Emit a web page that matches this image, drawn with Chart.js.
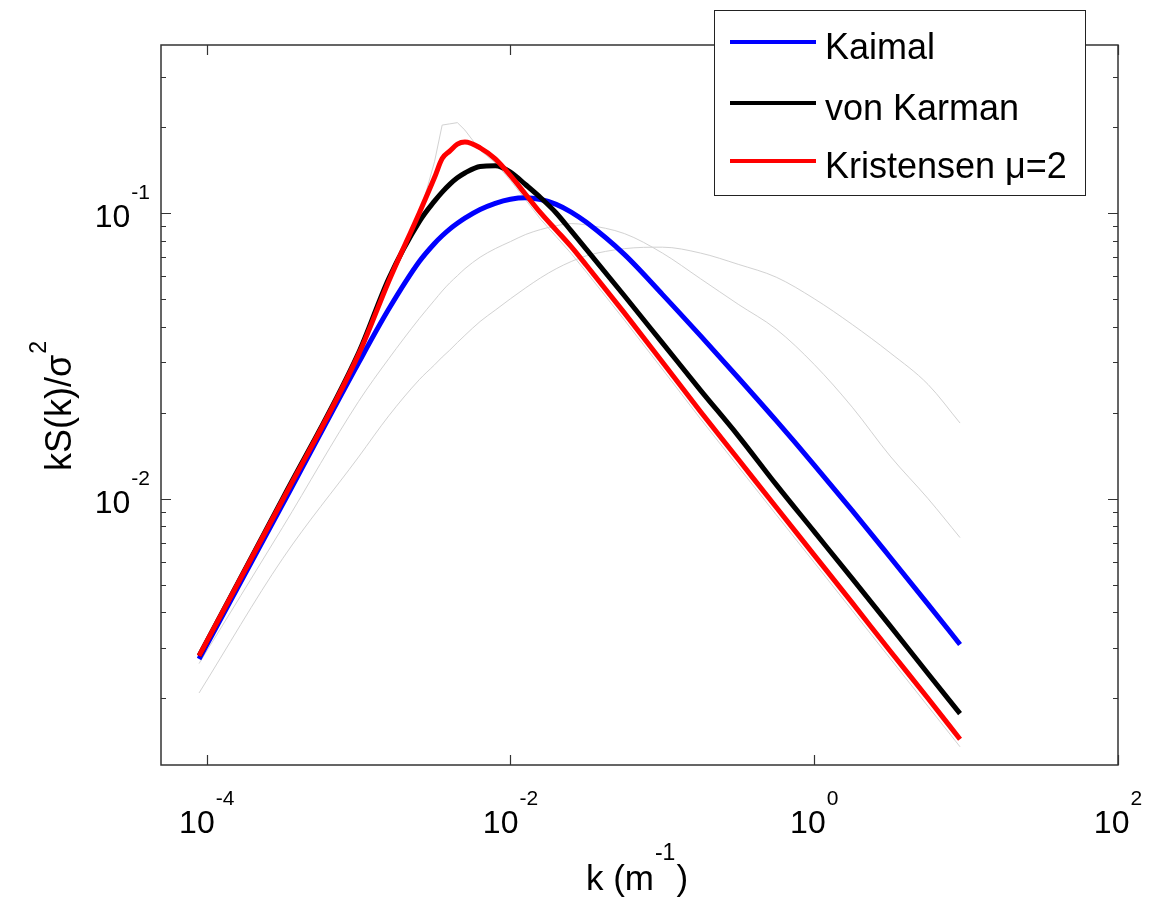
<!DOCTYPE html>
<html>
<head>
<meta charset="utf-8">
<title>Normalised spectra</title>
<script src="https://cdn.jsdelivr.net/npm/chart.js@4.4.1/dist/chart.umd.min.js"></script>
<style>
  html, body { margin: 0; padding: 0; background: #fff; }
  #wrap { width: 1158px; height: 902px; position: relative; }
</style>
</head>
<body>
<div id="wrap"><canvas id="spectra"></canvas></div>
<script>
// wave numbers k (1/m) shared by every curve
const waveNumbers = [8.9e-5, 3.16e-4, 1.0e-3, 1.58e-3, 2.51e-3, 3.16e-3, 3.55e-3, 3.98e-3, 4.47e-3, 5.01e-3,
  6.31e-3, 7.94e-3, 1.0e-2, 1.26e-2, 1.58e-2, 2.0e-2, 2.51e-2, 3.16e-2, 5.62e-2, 0.1,
  0.178, 0.316, 0.562, 1.0, 1.78, 3.16, 5.62, 9.12];

// kS(k)/sigma^2
const kaimal = [0.00275, 0.00955, 0.0299, 0.0461, 0.0676, 0.0782, 0.0832, 0.0878, 0.0920, 0.0959,
  0.1028, 0.1081, 0.1117, 0.1130, 0.1114, 0.1072, 0.1007, 0.0927, 0.0716, 0.0519,
  0.0372, 0.0265, 0.01875, 0.01312, 0.00908, 0.00624, 0.00427, 0.00309];
const vonKarman = [0.00282, 0.0100, 0.0324, 0.0590, 0.0933, 0.110, 0.1183, 0.1259, 0.1327, 0.138,
  0.1455, 0.1462, 0.139, 0.1255, 0.113, 0.100, 0.0865, 0.0746, 0.0513, 0.0351,
  0.024, 0.0166, 0.0112, 0.00767, 0.00525, 0.00359, 0.00244, 0.00177];
const kristensen = [0.00282, 0.0099, 0.032, 0.0577, 0.100, 0.133, 0.155, 0.1645, 0.174, 0.177,
  0.169, 0.1545, 0.135, 0.116, 0.100, 0.0871, 0.0762, 0.0656, 0.0447, 0.0301,
  0.0202, 0.01374, 0.00933, 0.00635, 0.00432, 0.00293, 0.0020, 0.00144];

// the three thin grey background curves
const greyA = [0.00275, 0.00977, 0.0316, 0.0569, 0.0977, 0.151, 0.203, 0.205, 0.207, 0.195,
  0.166, 0.1496, 0.130, 0.111, 0.095, 0.0826, 0.0721, 0.0621, 0.0422, 0.0284,
  0.01905, 0.01294, 0.00879, 0.00598, 0.00406, 0.00276, 0.001875, 0.001355];
const greyB = [0.00265, 0.00794, 0.0219, 0.0309, 0.0427, 0.0495, 0.0533, 0.0569, 0.0603, 0.0638,
  0.070, 0.075, 0.0794, 0.0841, 0.0875, 0.0902, 0.0918, 0.0908, 0.0847, 0.0724,
  0.0589, 0.0479, 0.0392, 0.0295, 0.0209, 0.0141, 0.0100, 0.00731];
const greyC = [0.00209, 0.00617, 0.014, 0.0195, 0.0261, 0.0294, 0.0313, 0.0331, 0.0352, 0.0373,
  0.0417, 0.0457, 0.0501, 0.0547, 0.0593, 0.0638, 0.0676, 0.0708, 0.075, 0.0759,
  0.0724, 0.0661, 0.0596, 0.0501, 0.0407, 0.0324, 0.0251, 0.0184];

// axis ticks
const xMajorTicks = [1e-4, 1e-2, 1, 1e2];
const xTickExponents = ['-4', '-2', '0', '2'];
const yMajorTicks = [1e-2, 1e-1];
const yTickExponents = ['-2', '-1'];
const yMinorTicks = [0.002, 0.003, 0.004, 0.005, 0.006, 0.007, 0.008, 0.009,
  0.02, 0.03, 0.04, 0.05, 0.06, 0.07, 0.08, 0.09, 0.2, 0.3];

const legendLabels = ['Kaimal', 'von Karman', 'Kristensen \u03bc=2'];
const legendColors = ['#0000ff', '#000000', '#ff0000'];

const FONT = '"Liberation Sans", Arial, Helvetica, sans-serif';
const AXIS_COLOR = '#333333';

function toPoints(values) {
  return waveNumbers.map((k, i) => ({ x: k, y: values[i] }));
}

function mainLine(label, values, color, order) {
  return {
    label: label, data: toPoints(values), borderColor: color, borderWidth: 5,
    order: order, cubicInterpolationMode: 'monotone'
  };
}

function greyLine(values, smooth) {
  const ds = { label: '', data: toPoints(values), borderColor: '#d2d2d2', borderWidth: 1, order: 10 };
  if (smooth) ds.cubicInterpolationMode = 'monotone';
  return ds;
}

// "10" with a raised exponent
function drawPower(ctx, exponent, left, baseline) {
  ctx.font = '32px ' + FONT;
  ctx.textAlign = 'left';
  ctx.fillText('10', left, baseline);
  const baseWidth = ctx.measureText('10').width;
  ctx.font = '21px ' + FONT;
  ctx.fillText(exponent, left + baseWidth + 1, baseline - 28);
}

function powerWidth(ctx, exponent) {
  ctx.font = '32px ' + FONT;
  const a = ctx.measureText('10').width;
  ctx.font = '21px ' + FONT;
  return a + 1 + ctx.measureText(exponent).width;
}

const framePlugin = {
  id: 'frame',
  beforeDraw(chart) {
    const ctx = chart.ctx;
    ctx.save();
    ctx.fillStyle = '#ffffff';
    ctx.fillRect(0, 0, chart.width, chart.height);
    ctx.restore();
  },
  afterDraw(chart) {
    const ctx = chart.ctx;
    const area = chart.chartArea;
    const xScale = chart.scales.x;
    const yScale = chart.scales.y;
    ctx.save();

    // axes box
    ctx.strokeStyle = AXIS_COLOR;
    ctx.lineWidth = 1.5;
    ctx.strokeRect(area.left, area.top, area.right - area.left, area.bottom - area.top);

    // ticks pointing inward, mirrored on the opposite side
    ctx.lineWidth = 1.2;
    ctx.beginPath();
    xMajorTicks.forEach(v => {
      const px = Math.round(xScale.getPixelForValue(v)) + 0.5;
      ctx.moveTo(px, area.bottom); ctx.lineTo(px, area.bottom - 10);
      ctx.moveTo(px, area.top); ctx.lineTo(px, area.top + 10);
    });
    yMajorTicks.forEach(v => {
      const py = Math.round(yScale.getPixelForValue(v)) + 0.5;
      ctx.moveTo(area.left, py); ctx.lineTo(area.left + 10, py);
      ctx.moveTo(area.right, py); ctx.lineTo(area.right - 10, py);
    });
    yMinorTicks.forEach(v => {
      const py = Math.round(yScale.getPixelForValue(v)) + 0.5;
      ctx.moveTo(area.left, py); ctx.lineTo(area.left + 5, py);
      ctx.moveTo(area.right, py); ctx.lineTo(area.right - 5, py);
    });
    ctx.stroke();

    // tick labels
    ctx.fillStyle = '#000000';
    ctx.textBaseline = 'alphabetic';
    xMajorTicks.forEach((v, i) => {
      const px = xScale.getPixelForValue(v);
      const w = powerWidth(ctx, xTickExponents[i]);
      drawPower(ctx, xTickExponents[i], px - w / 2, 833);
    });
    yMajorTicks.forEach((v, i) => {
      const py = yScale.getPixelForValue(v);
      const w = powerWidth(ctx, yTickExponents[i]);
      drawPower(ctx, yTickExponents[i], 150 - w, py + 14);
    });

    // x axis title: k (m^-1)
    ctx.font = '35px ' + FONT;
    const partA = 'k (m';
    const wA = ctx.measureText(partA).width;
    const wC = ctx.measureText(')').width;
    ctx.font = '23px ' + FONT;
    const wB = ctx.measureText('-1').width;
    let tx = 637 - (wA + wB + wC + 2) / 2;
    ctx.font = '35px ' + FONT;
    ctx.fillText(partA, tx, 890);
    ctx.font = '23px ' + FONT;
    ctx.fillText('-1', tx + wA + 1, 860);
    ctx.font = '35px ' + FONT;
    ctx.fillText(')', tx + wA + wB + 2, 890);

    // y axis title: kS(k)/sigma^2
    ctx.save();
    ctx.translate(71, 406);
    ctx.rotate(-Math.PI / 2);
    ctx.font = '36px ' + FONT;
    const yA = 'kS(k)/\u03c3';
    const ywA = ctx.measureText(yA).width;
    ctx.font = '23px ' + FONT;
    const ywB = ctx.measureText('2').width;
    const ty = -(ywA + ywB + 1) / 2;
    ctx.font = '36px ' + FONT;
    ctx.fillText(yA, ty, 0);
    ctx.font = '23px ' + FONT;
    ctx.fillText('2', ty + ywA + 1, -25);
    ctx.restore();

    // legend box
    ctx.fillStyle = '#ffffff';
    ctx.fillRect(714.5, 10.5, 371, 185);
    ctx.strokeStyle = '#222222';
    ctx.lineWidth = 1;
    ctx.strokeRect(714.5, 10.5, 371, 185);
    const rows = [42, 103, 161];
    ctx.font = '36px ' + FONT;
    legendLabels.forEach((label, i) => {
      ctx.strokeStyle = legendColors[i];
      ctx.lineWidth = 4;
      ctx.beginPath();
      ctx.moveTo(730, rows[i]);
      ctx.lineTo(816, rows[i]);
      ctx.stroke();
      ctx.fillStyle = '#000000';
      ctx.fillText(label, 825, rows[i] + 17);
    });

    ctx.restore();
  }
};

const ctx = document.getElementById('spectra').getContext('2d');
const spectraChart = new Chart(ctx, {
  type: 'line',
  data: {
    datasets: [
      mainLine('Kristensen \u03bc=2', kristensen, '#ff0000', 0),
      mainLine('von Karman', vonKarman, '#000000', 1),
      mainLine('Kaimal', kaimal, '#0000ff', 2),
      greyLine(greyA, false),
      greyLine(greyB, true),
      greyLine(greyC, true)
    ]
  },
  options: {
    responsive: true,
    maintainAspectRatio: false,
    animation: false,
    events: [],
    layout: { padding: { left: 161, top: 45, right: 40, bottom: 137 } },
    elements: { point: { radius: 0 }, line: { tension: 0, borderJoinStyle: 'round' } },
    plugins: { legend: { display: false }, tooltip: { enabled: false } },
    scales: {
      x: { type: 'logarithmic', min: 5e-5, max: 100, display: false },
      y: { type: 'logarithmic', min: 0.00117, max: 0.387, display: false }
    }
  },
  plugins: [framePlugin]
});
</script>
</body>
</html>
